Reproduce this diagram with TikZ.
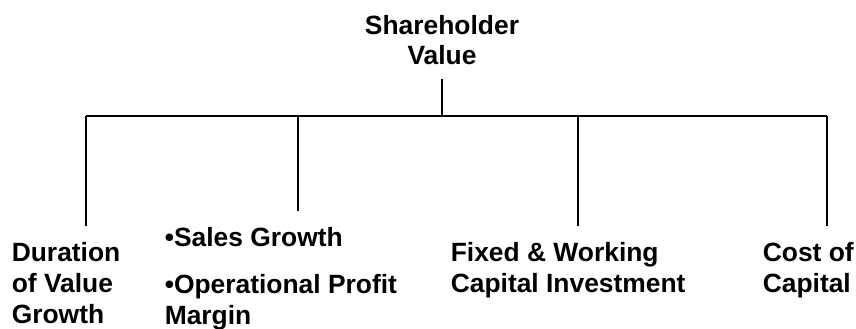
\documentclass[tikz,border=0pt]{standalone}
\usepackage{fontspec}
\setmainfont{Liberation Sans}
\begin{document}
\begin{tikzpicture}[x=1pt, y=-1pt, line width=1.6pt,
    label/.style={font=\fontsize{26.4}{31}\selectfont\bfseries, inner xsep=0pt, inner ysep=15pt}]
        \useasboundingbox (0, 0) rectangle (856, 329);
        \node[label, align=center, anchor=base, inner ysep=13pt] (sv) at (442, 65) {Shareholder\\Value};
        \node[label, align=left, anchor=base west] (dur) at (11, 323) {Duration\\of Value\\Growth};
        \node[label, align=left, anchor=base west] (sg) at (164, 324) {•Sales Growth\\[16pt]•Operational Profit\\Margin};
        \node[label, align=left, anchor=base west] (fw) at (450, 292) {Fixed \& Working\\Capital Investment};
        \node[label, align=left, anchor=base west] (cc) at (762, 292) {Cost of\\Capital};
        \coordinate (j1) at (86, 116);
        \coordinate (j2) at (298, 116);
        \coordinate (j3) at (578, 116);
        \coordinate (j4) at (827, 116);
        \draw (sv.south) -- (sv.south |- j1);
        \draw (j1) -- (j4);
        \draw (j1) -- (j1 |- dur.north);
        \draw (j2) -- (j2 |- sg.north);
        \draw (j3) -- (j3 |- fw.north);
        \draw (j4) -- (j4 |- cc.north);
    \end{tikzpicture}
\end{document}
